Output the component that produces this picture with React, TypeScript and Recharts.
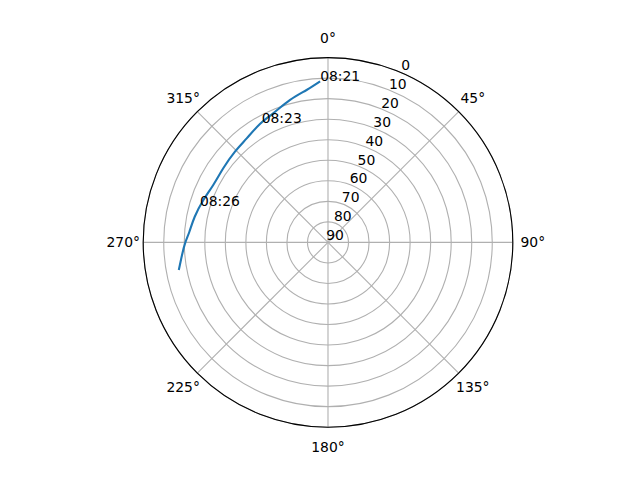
import React from "react";
import {
  RadarChart,
  Radar,
  PolarGrid,
  PolarAngleAxis,
  PolarRadiusAxis,
  ScatterChart,
  Scatter,
  XAxis,
  YAxis,
} from "recharts";

// satellite track: azimuth (deg, clockwise from north) and elevation (deg)
const TRACK_AZ = [357.2, 352.0, 345.1, 337.0, 330.1, 322.0, 314.3, 305.3, 296.6, 288.8, 280.9, 274.4, 269.9, 265.1, 259.5];
const TRACK_EL = [11.5, 15.05, 18.2, 21.7, 23.5, 25.7, 26.7, 27.5, 27.5, 25.9, 23.9, 22.3, 20.5, 18.65, 16.1];

const TIME_LABELS = ["08:21", "08:23", "08:26"];
const TIME_AZ = [357.2, 331.0, 286.0];
const TIME_EL = [11.5, 23.4, 25.1];

const AZ_TICKS = ["0°", "45°", "90°", "135°", "180°", "225°", "270°", "315°"];
const EL_TICKS = [0, 10, 20, 30, 40, 50, 60, 70, 80, 90];

const W = 640;
const H = 480;
const CX = 328;
const CY = 242.4;
const R = 184.8;
const FONT = "'DejaVu Sans', sans-serif";

// zenith-distance projection (elevation 90 at centre)
const toXY = (az: number, el: number) => {
  const rad = (az * Math.PI) / 180;
  return { x: (90 - el) * Math.sin(rad), y: (90 - el) * Math.cos(rad) };
};

const track = TRACK_AZ.map((az, i) => toXY(az, TRACK_EL[i]));
const stamps = TIME_AZ.map((az, i) => ({ ...toXY(az, TIME_EL[i]), label: TIME_LABELS[i] }));
// zenith distance 0 everywhere: only gives the radius axis something to work with
const angleData = AZ_TICKS.map((name) => ({ name, zd: 0 }));

const AngleTick = (props: any) => (
  <text
    x={props.x}
    y={props.y}
    textAnchor="middle"
    dominantBaseline="central"
    fontSize={13.9}
    fontFamily={FONT}
    fill="#000"
  >
    {props.payload.value}
  </text>
);

const RadiusTick = (props: any) => (
  <text
    x={props.x + 7}
    y={props.y - 7}
    textAnchor="middle"
    dominantBaseline="central"
    fontSize={13.9}
    fontFamily={FONT}
    fill="#000"
  >
    {90 - props.payload.value}
  </text>
);

const StampLabel = (props: any) => (
  <text x={props.cx} y={props.cy} fontSize={13.9} fontFamily={FONT} fill="#000">
    {props.payload.label}
  </text>
);

export default function App() {
  return (
    <div style={{ position: "absolute", left: 0, top: 0, width: W, height: H, background: "#fff" }}>
      <div style={{ position: "absolute", left: 0, top: 0 }}>
        <RadarChart
          width={W}
          height={H}
          data={angleData}
          cx={CX}
          cy={CY}
          outerRadius={R}
          startAngle={90}
          endAngle={-270}
          margin={{ top: 0, right: 0, bottom: 0, left: 0 }}
        >
          <PolarGrid gridType="circle" stroke="#b0b0b0" strokeWidth={1.1} />
          <PolarAngleAxis
            dataKey="name"
            axisLineType="circle"
            axisLine={{ stroke: "#000", strokeWidth: 1.1 }}
            tickLine={false}
            tickSize={20}
            tick={AngleTick}
          />
          <PolarRadiusAxis
            type="number"
            domain={[0, 90]}
            ticks={EL_TICKS as any}
            tickCount={EL_TICKS.length}
            angle={67.5}
            axisLine={false}
            tickLine={false}
            tick={RadiusTick}
          />
          <Radar dataKey="zd" stroke="none" fill="none" dot={false} isAnimationActive={false} />
        </RadarChart>
      </div>
      <div style={{ position: "absolute", left: 0, top: 0 }}>
        <ScatterChart
          width={W}
          height={H}
          margin={{ top: CY - R, bottom: H - CY - R, left: CX - R, right: W - CX - R }}
        >
          <XAxis type="number" dataKey="x" domain={[-90, 90]} hide />
          <YAxis type="number" dataKey="y" domain={[-90, 90]} hide />
          <Scatter
            data={track}
            line={{ stroke: "#1f77b4", strokeWidth: 2.1 }}
            lineJointType="natural"
            shape={() => <g />}
            isAnimationActive={false}
          />
          <Scatter data={stamps} shape={StampLabel} isAnimationActive={false} />
        </ScatterChart>
      </div>
    </div>
  );
}
